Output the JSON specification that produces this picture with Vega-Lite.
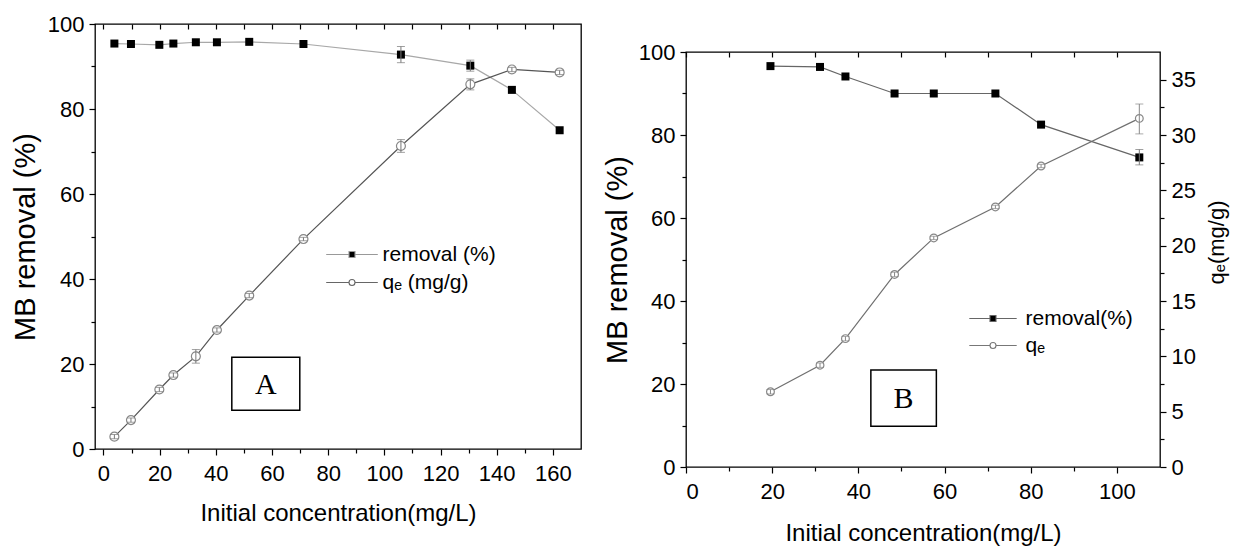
{
  "$schema": "https://vega.github.io/schema/vega-lite/v6.json",
  "padding": {"left": 10, "top": 12, "right": 2, "bottom": 0},
  "spacing": 20,
  "resolve": {"scale": {"shape": "independent", "fill": "independent", "stroke": "independent"}, "legend": {"shape": "independent", "fill": "independent", "stroke": "independent"}},
  "config": {
    "font": "Liberation Sans",
    "view": {"stroke": "#000", "strokeWidth": 1.3},
    "axis": {
      "grid": false, "domain": false, "tickColor": "#000", "tickWidth": 1.2,
      "labelFont": "Liberation Sans", "labelFontSize": 22, "labelColor": "#000",
      "titleFont": "Liberation Sans", "titleFontSize": 24, "titleFontWeight": "normal", "titleColor": "#000"
    },
    "legend": {"labelFont": "Liberation Sans", "labelFontSize": 21, "labelColor": "#000", "symbolStrokeWidth": 1.1, "symbolOpacity": 1}
  },
  "datasets": {
    "A": [
      {"c": 3.9, "s": "removal (%)", "v": 95.4},
      {"c": 9.8, "s": "removal (%)", "v": 95.3},
      {"c": 19.9, "s": "removal (%)", "v": 95.1},
      {"c": 24.9, "s": "removal (%)", "v": 95.4},
      {"c": 32.9, "s": "removal (%)", "v": 95.7},
      {"c": 40.4, "s": "removal (%)", "v": 95.7},
      {"c": 51.9, "s": "removal (%)", "v": 95.8},
      {"c": 71.2, "s": "removal (%)", "v": 95.3},
      {"c": 105.9, "s": "removal (%)", "v": 92.8, "lo": 90.9, "hi": 94.7},
      {"c": 130.6, "s": "removal (%)", "v": 90.2, "lo": 88.9, "hi": 91.5},
      {"c": 145.4, "s": "removal (%)", "v": 84.5},
      {"c": 162.4, "s": "removal (%)", "v": 75.0},
      {"c": 3.9, "s": "qₑ (mg/g)", "v": 2.9, "lo": 2.4, "hi": 3.4},
      {"c": 9.8, "s": "qₑ (mg/g)", "v": 6.8, "lo": 6.3, "hi": 7.3},
      {"c": 19.9, "s": "qₑ (mg/g)", "v": 14.0, "lo": 13.5, "hi": 14.5},
      {"c": 24.9, "s": "qₑ (mg/g)", "v": 17.4, "lo": 16.9, "hi": 17.9},
      {"c": 32.9, "s": "qₑ (mg/g)", "v": 21.8, "lo": 20.2, "hi": 23.4},
      {"c": 40.4, "s": "qₑ (mg/g)", "v": 28.0, "lo": 27.5, "hi": 28.5},
      {"c": 51.9, "s": "qₑ (mg/g)", "v": 36.1, "lo": 35.6, "hi": 36.6},
      {"c": 71.2, "s": "qₑ (mg/g)", "v": 49.4, "lo": 49.0, "hi": 49.8},
      {"c": 105.9, "s": "qₑ (mg/g)", "v": 71.3, "lo": 69.8, "hi": 72.8},
      {"c": 130.6, "s": "qₑ (mg/g)", "v": 85.8, "lo": 84.5, "hi": 87.1},
      {"c": 145.4, "s": "qₑ (mg/g)", "v": 89.3, "lo": 88.8, "hi": 89.8},
      {"c": 162.4, "s": "qₑ (mg/g)", "v": 88.6, "lo": 88.1, "hi": 89.1}
    ],
    "B": [
      {"c": 19.6, "s": "removal(%)", "v": 96.6},
      {"c": 31.1, "s": "removal(%)", "v": 96.4},
      {"c": 37.0, "s": "removal(%)", "v": 94.1},
      {"c": 48.4, "s": "removal(%)", "v": 90.0},
      {"c": 57.5, "s": "removal(%)", "v": 90.0},
      {"c": 71.8, "s": "removal(%)", "v": 90.0},
      {"c": 82.4, "s": "removal(%)", "v": 82.5},
      {"c": 105.2, "s": "removal(%)", "v": 74.6, "lo": 72.8, "hi": 76.5},
      {"c": 19.6, "s": "qₑ", "v": 6.8, "lo": 6.6, "hi": 7.0},
      {"c": 31.1, "s": "qₑ", "v": 9.2, "lo": 9.0, "hi": 9.4},
      {"c": 37.0, "s": "qₑ", "v": 11.6, "lo": 11.4, "hi": 11.8},
      {"c": 48.4, "s": "qₑ", "v": 17.4, "lo": 17.2, "hi": 17.6},
      {"c": 57.5, "s": "qₑ", "v": 20.7, "lo": 20.55, "hi": 20.85},
      {"c": 71.8, "s": "qₑ", "v": 23.5, "lo": 23.35, "hi": 23.65},
      {"c": 82.4, "s": "qₑ", "v": 27.2, "lo": 27.05, "hi": 27.35},
      {"c": 105.2, "s": "qₑ", "v": 31.5, "lo": 30.1, "hi": 32.8}
    ]
  },
  "hconcat": [
    {
      "width": 486,
      "height": 425,
      "data": {"name": "A"},
      "layer": [
        {
          "transform": [{"filter": "datum.s === 'removal (%)'"}],
          "mark": {"type": "line", "color": "#a8a8a8", "strokeWidth": 1.2},
          "encoding": {
            "x": {"field": "c", "type": "quantitative", "scale": {"domain": [-3, 170], "nice": false, "zero": false},
                  "axis": {"orient": "bottom", "values": [0, 20, 40, 60, 80, 100, 120, 140, 160], "tickSize": 6, "labelPadding": 8, "title": "Initial concentration(mg/L)", "titlePadding": 17}},
            "y": {"field": "v", "type": "quantitative", "scale": {"domain": [0, 100], "nice": false},
                  "axis": {"orient": "left", "values": [0, 20, 40, 60, 80, 100], "tickSize": 6, "labelPadding": 5, "title": "MB removal (%)", "titleFontSize": 29, "titlePadding": 7}}
          }
        },
        {
          "transform": [{"filter": "datum.s !== 'removal (%)'"}],
          "mark": {"type": "line", "color": "#555555", "strokeWidth": 1.2},
          "encoding": {
            "x": {"field": "c", "type": "quantitative", "axis": {"orient": "bottom", "values": [10, 30, 50, 70, 90, 110, 130, 150], "tickSize": 4, "labels": false, "title": null}},
            "y": {"field": "v", "type": "quantitative", "axis": {"orient": "left", "values": [10, 30, 50, 70, 90], "tickSize": 4, "labels": false, "title": null}}
          }
        },
        {
          "transform": [{"filter": "datum.s === 'removal (%)'"}],
          "mark": {"type": "point", "shape": "square", "filled": true, "color": "#000", "size": 64, "opacity": 1},
          "encoding": {
            "x": {"field": "c", "type": "quantitative", "axis": {"orient": "top", "values": [0, 10, 20, 30, 40, 50, 60, 70, 80, 90, 100, 110, 120, 130, 140, 150, 160], "tickSize": 5, "offset": -5, "labels": false, "title": null}},
            "y": {"field": "v", "type": "quantitative", "axis": null}
          }
        },
        {
          "transform": [{"filter": "datum.s !== 'removal (%)'"}],
          "mark": {"type": "point", "shape": "circle", "filled": false, "fill": "#fff", "fillOpacity": 1, "stroke": "#888", "strokeWidth": 1.2, "size": 80, "opacity": 1},
          "encoding": {
            "x": {"field": "c", "type": "quantitative", "axis": null},
            "y": {"field": "v", "type": "quantitative", "axis": null}
          }
        },
        {
          "transform": [{"filter": "false"}],
          "mark": {"type": "point", "filled": true, "opacity": 1},
          "encoding": {
            "x": {"field": "c", "type": "quantitative", "axis": null},
            "y": {"field": "v", "type": "quantitative", "axis": null},
            "shape": {"field": "s", "type": "nominal",
              "scale": {"domain": ["removal (%)", "qₑ (mg/g)"], "range": ["M-8.6,0H-1M1,0H8.6M-1,-1H1V1H-1Z", "M-8.6,0H-1M1,0H8.6M-1,0A1,1,0,1,1,1,0A1,1,0,1,1,-1,0Z"]},
              "legend": {"orient": "none", "legendX": 246.5, "legendY": 220, "title": null, "padding": 0, "symbolSize": 36, "labelOffset": 20, "rowPadding": 6}},
            "fill": {"field": "s", "type": "nominal", "scale": {"domain": ["removal (%)", "qₑ (mg/g)"], "range": ["#000", "#fff"]},
              "legend": {"orient": "none", "legendX": 246.5, "legendY": 220, "title": null, "padding": 0, "symbolSize": 36, "labelOffset": 20, "rowPadding": 6}},
            "stroke": {"field": "s", "type": "nominal", "scale": {"domain": ["removal (%)", "qₑ (mg/g)"], "range": ["#999", "#666"]},
              "legend": {"orient": "none", "legendX": 246.5, "legendY": 220, "title": null, "padding": 0, "symbolSize": 36, "labelOffset": 20, "rowPadding": 6}}
          }
        },
        {
          "transform": [{"filter": "isValid(datum.lo)"}],
          "mark": {"type": "rule", "color": "#777", "strokeWidth": 1},
          "encoding": {
            "x": {"field": "c", "type": "quantitative", "axis": null},
            "y": {"field": "lo", "type": "quantitative", "axis": null},
            "y2": {"field": "hi"}
          }
        },
        {
          "transform": [{"filter": "isValid(datum.lo)"}],
          "mark": {"type": "tick", "orient": "horizontal", "color": "#777", "size": 8, "thickness": 1},
          "encoding": {
            "x": {"field": "c", "type": "quantitative", "axis": null},
            "y": {"field": "lo", "type": "quantitative", "axis": null}
          }
        },
        {
          "transform": [{"filter": "isValid(datum.hi)"}],
          "mark": {"type": "tick", "orient": "horizontal", "color": "#777", "size": 8, "thickness": 1},
          "encoding": {
            "x": {"field": "c", "type": "quantitative", "axis": null},
            "y": {"field": "hi", "type": "quantitative", "axis": null}
          }
        },
        {
          "data": {"values": [{}]},
          "mark": {"type": "rect", "fill": "#fff", "stroke": "#000", "strokeWidth": 1.5},
          "encoding": {
            "x": {"datum": 45.7, "type": "quantitative", "axis": null},
            "x2": {"datum": 69.9},
            "y": {"datum": 21.6, "type": "quantitative", "axis": null},
            "y2": {"datum": 9.1}
          }
        },
        {
          "data": {"values": [{}]},
          "mark": {"type": "text", "font": "Liberation Serif", "fontSize": 30, "color": "#000", "align": "center", "baseline": "middle", "dy": 1},
          "encoding": {
            "x": {"datum": 57.8, "type": "quantitative", "axis": null},
            "y": {"datum": 15.3, "type": "quantitative", "axis": null},
            "text": {"value": "A"}
          }
        }
      ],
      "resolve": {"axis": {"x": "independent", "y": "independent"}}
    },
    {
      "spacing": 0,
      "vconcat": [
        {
          "width": 474,
          "height": 16,
          "view": {"stroke": null},
          "data": {"values": [{}]},
          "mark": {"type": "point", "opacity": 0}
        },
        {
          "width": 474,
          "height": 415,
          "data": {"name": "B"},
          "layer": [
            {
              "transform": [{"filter": "datum.s === 'removal(%)'"}],
              "mark": {"type": "line", "color": "#666", "strokeWidth": 1.2},
              "encoding": {
                "x": {"field": "c", "type": "quantitative", "scale": {"domain": [0, 110], "nice": false, "zero": false},
                      "axis": {"orient": "bottom", "values": [0, 20, 40, 60, 80, 100], "tickSize": 6, "labelPadding": 8, "title": "Initial concentration(mg/L)", "titlePadding": 19}},
                "y": {"field": "v", "type": "quantitative", "scale": {"domain": [0, 100], "nice": false},
                      "axis": {"orient": "left", "values": [0, 20, 40, 60, 80, 100], "tickSize": 6, "labelPadding": 5, "title": "MB removal (%)", "titleFontSize": 29, "titlePadding": 6}}
              }
            },
            {
              "transform": [{"filter": "datum.s === 'qₑ'"}],
              "mark": {"type": "line", "color": "#707070", "strokeWidth": 1.2},
              "encoding": {
                "x": {"field": "c", "type": "quantitative", "axis": {"orient": "bottom", "values": [10, 30, 50, 70, 90], "tickSize": 4, "labels": false, "title": null}},
                "y": {"field": "v", "type": "quantitative", "scale": {"domain": [0, 37.5], "nice": false},
                      "axis": {"orient": "right", "values": [0, 5, 10, 15, 20, 25, 30, 35], "tickSize": 6, "labelPadding": 5, "title": "qₑ(mg/g)", "titleFontSize": 22, "titleAngle": 270, "titleBaseline": "top", "titlePadding": 11, "titleY": 190}}
              }
            },
            {
              "transform": [{"filter": "datum.s === 'removal(%)'"}],
              "mark": {"type": "point", "shape": "square", "filled": true, "color": "#000", "size": 64, "opacity": 1},
              "encoding": {
                "x": {"field": "c", "type": "quantitative", "axis": {"orient": "top", "values": [0, 10, 20, 30, 40, 50, 60, 70, 80, 90, 100], "tickSize": 5, "offset": -5, "labels": false, "title": null}},
                "y": {"field": "v", "type": "quantitative", "scale": {"domain": [0, 100], "nice": false},
                      "axis": {"orient": "left", "values": [10, 30, 50, 70, 90], "tickSize": 4, "labels": false, "title": null}}
              }
            },
            {
              "transform": [{"filter": "datum.s === 'qₑ'"}],
              "mark": {"type": "point", "shape": "circle", "filled": false, "fill": "#fff", "fillOpacity": 1, "stroke": "#888", "strokeWidth": 1.2, "size": 60, "opacity": 1},
              "encoding": {
                "x": {"field": "c", "type": "quantitative", "axis": null},
                "y": {"field": "v", "type": "quantitative", "scale": {"domain": [0, 37.5], "nice": false},
                      "axis": {"orient": "right", "values": [2.5, 7.5, 12.5, 17.5, 22.5, 27.5, 32.5], "tickSize": 4, "labels": false, "title": null}}
              }
            },
            {
              "transform": [{"filter": "false"}],
              "mark": {"type": "point", "filled": true, "opacity": 1},
              "encoding": {
                "x": {"field": "c", "type": "quantitative", "axis": null},
                "y": {"field": "v", "type": "quantitative", "scale": {"domain": [0, 100], "nice": false}, "axis": null},
                "shape": {"field": "s", "type": "nominal",
                  "scale": {"domain": ["removal(%)", "qₑ"], "range": ["M-7.9,0H-1M1,0H7.9M-1,-1H1V1H-1Z", "M-7.9,0H-1M1,0H7.9M-1,0A1,1,0,1,1,1,0A1,1,0,1,1,-1,0Z"]},
                  "legend": {"orient": "none", "legendX": 296.5, "legendY": 284, "title": null, "padding": 0, "symbolSize": 36, "labelOffset": 22, "rowPadding": 5}},
                "fill": {"field": "s", "type": "nominal", "scale": {"domain": ["removal(%)", "qₑ"], "range": ["#000", "#fff"]},
                  "legend": {"orient": "none", "legendX": 296.5, "legendY": 284, "title": null, "padding": 0, "symbolSize": 36, "labelOffset": 22, "rowPadding": 5}},
                "stroke": {"field": "s", "type": "nominal", "scale": {"domain": ["removal(%)", "qₑ"], "range": ["#666", "#777"]},
                  "legend": {"orient": "none", "legendX": 296.5, "legendY": 284, "title": null, "padding": 0, "symbolSize": 36, "labelOffset": 22, "rowPadding": 5}}
              }
            },
            {
              "transform": [{"filter": "datum.s === 'removal(%)' && isValid(datum.lo)"}],
              "mark": {"type": "rule", "color": "#777", "strokeWidth": 1},
              "encoding": {
                "x": {"field": "c", "type": "quantitative", "axis": null},
                "y": {"field": "lo", "type": "quantitative", "scale": {"domain": [0, 100], "nice": false}, "axis": null},
                "y2": {"field": "hi"}
              }
            },
            {
              "transform": [{"filter": "datum.s === 'removal(%)' && isValid(datum.lo)"}],
              "mark": {"type": "tick", "orient": "horizontal", "color": "#777", "size": 8, "thickness": 1},
              "encoding": {
                "x": {"field": "c", "type": "quantitative", "axis": null},
                "y": {"field": "lo", "type": "quantitative", "scale": {"domain": [0, 100], "nice": false}, "axis": null}
              }
            },
            {
              "transform": [{"filter": "datum.s === 'removal(%)' && isValid(datum.hi)"}],
              "mark": {"type": "tick", "orient": "horizontal", "color": "#777", "size": 8, "thickness": 1},
              "encoding": {
                "x": {"field": "c", "type": "quantitative", "axis": null},
                "y": {"field": "hi", "type": "quantitative", "scale": {"domain": [0, 100], "nice": false}, "axis": null}
              }
            },
            {
              "transform": [{"filter": "datum.s === 'qₑ' && isValid(datum.lo)"}],
              "mark": {"type": "rule", "color": "#888", "strokeWidth": 1},
              "encoding": {
                "x": {"field": "c", "type": "quantitative", "axis": null},
                "y": {"field": "lo", "type": "quantitative", "scale": {"domain": [0, 37.5], "nice": false}, "axis": null},
                "y2": {"field": "hi"}
              }
            },
            {
              "transform": [{"filter": "datum.s === 'qₑ' && isValid(datum.lo)"}],
              "mark": {"type": "tick", "orient": "horizontal", "color": "#888", "size": 8, "thickness": 1},
              "encoding": {
                "x": {"field": "c", "type": "quantitative", "axis": null},
                "y": {"field": "lo", "type": "quantitative", "scale": {"domain": [0, 37.5], "nice": false}, "axis": null}
              }
            },
            {
              "transform": [{"filter": "datum.s === 'qₑ' && isValid(datum.hi)"}],
              "mark": {"type": "tick", "orient": "horizontal", "color": "#888", "size": 8, "thickness": 1},
              "encoding": {
                "x": {"field": "c", "type": "quantitative", "axis": null},
                "y": {"field": "hi", "type": "quantitative", "scale": {"domain": [0, 37.5], "nice": false}, "axis": null}
              }
            },
            {
              "data": {"values": [{}]},
              "mark": {"type": "rect", "fill": "#fff", "stroke": "#000", "strokeWidth": 1.5},
              "encoding": {
                "x": {"datum": 42.9, "type": "quantitative", "axis": null},
                "x2": {"datum": 58.1},
                "y": {"datum": 23.4, "type": "quantitative", "scale": {"domain": [0, 100], "nice": false}, "axis": null},
                "y2": {"datum": 9.8}
              }
            },
            {
              "data": {"values": [{}]},
              "mark": {"type": "text", "font": "Liberation Serif", "fontSize": 30, "color": "#000", "align": "center", "baseline": "middle", "dy": 1},
              "encoding": {
                "x": {"datum": 50.5, "type": "quantitative", "axis": null},
                "y": {"datum": 16.6, "type": "quantitative", "scale": {"domain": [0, 100], "nice": false}, "axis": null},
                "text": {"value": "B"}
              }
            }
          ],
          "resolve": {"scale": {"y": "independent"}, "axis": {"x": "independent", "y": "independent"}}
        }
      ]
    }
  ]
}
